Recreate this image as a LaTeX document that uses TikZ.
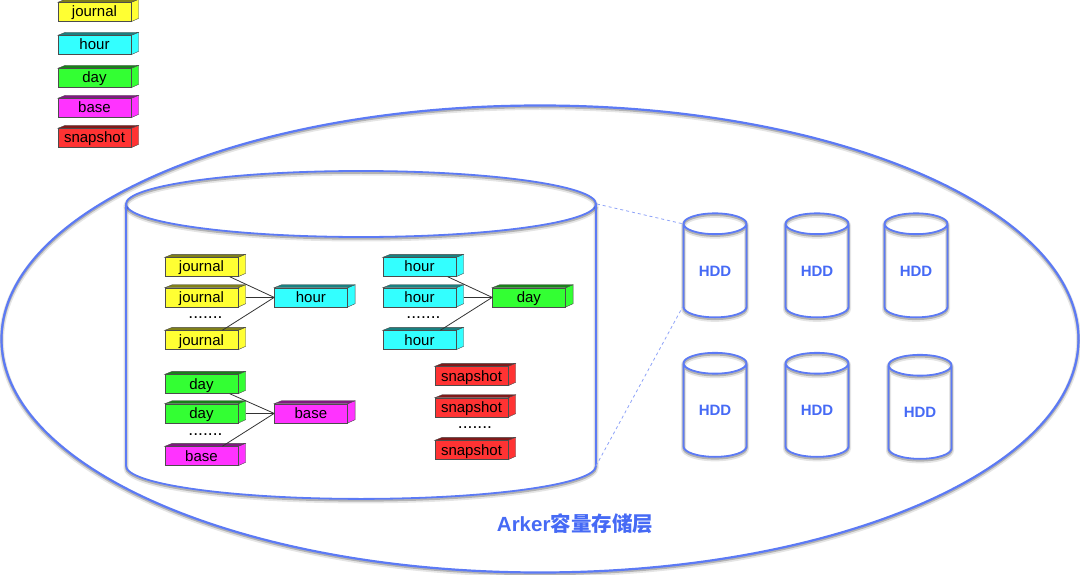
\documentclass[tikz,border=0pt]{standalone}
\usepackage{fontspec}
\setmainfont{Liberation Sans}
\newfontfamily\cjk{Noto Sans CJK SC}
\usepackage{tikz}
\usetikzlibrary{positioning, shapes.geometric}

\definecolor{arkerblue}{RGB}{92,122,245}
\definecolor{arkertext}{RGB}{70,106,245}
\definecolor{jyellow}{RGB}{255,255,51}
\definecolor{hcyan}{RGB}{51,255,255}
\definecolor{dgreen}{RGB}{51,255,51}
\definecolor{bmagenta}{RGB}{255,51,255}
\definecolor{sred}{RGB}{255,51,51}

\tikzset{
  brick/.style={draw=black!70, fill=#1, minimum width=73pt, minimum height=19pt, inner sep=0pt,
    font=\fontsize{15}{15}\selectfont, text height=10pt, text depth=0pt,
    append after command={\pgfextra{
      \draw[draw=black!70, fill=#1] (\tikzlastnode.north east) -- ++(7.5,-3) -- ++(0,19) -- (\tikzlastnode.south east) -- cycle;
      \draw[draw=black!70, fill=#1!50!black] (\tikzlastnode.north west) -- ++(7.5,-3) -- ++(73,0) -- (\tikzlastnode.north east) -- cycle;
    }}},
  soft/.style={preaction={draw=black, draw opacity=0.10, line width=5pt, transform canvas={yshift=-2pt}},
    preaction={draw=black, draw opacity=0.22, line width=2.5pt, transform canvas={yshift=-1.5pt}}},
  tankline/.style={draw=arkerblue, line width=1.8pt, soft},
  hdd/.style={shape=cylinder, shape border rotate=90, tankline, inner sep=0pt, aspect=0.64, minimum width=63pt, minimum height=104pt, text=arkertext, font=\fontsize{15}{15}\selectfont\bfseries},
  dots/.style={anchor=base, font=\fontsize{17.5}{17.5}\selectfont},
  zoomline/.style={draw=arkerblue!70, dashed, line width=0.8pt},
  link/.style={draw=black!80, line width=0.8pt}
}

\begin{document}
\begin{tikzpicture}[x=1pt, y=-1pt]
\useasboundingbox (0,0) rectangle (1080,575);

% ================= OUTER LAYER =================
\node[ellipse, draw=arkerblue, line width=2.2pt, inner sep=0pt, minimum width=1077pt, minimum height=467pt, soft] (layer) at (540,339) {};
\node[text=arkertext, font=\fontsize{20.5}{20.5}\selectfont\bfseries] (title) at (575,524) {Arker{\cjk 容量存储层}};

% ================= LEGEND =================
\node[brick=jyellow] (legjr) at (94.5,12) {journal};
\node[brick=hcyan] (leghr) at (94.5,45) {hour};
\node[brick=dgreen] (legdy) at (94.5,78) {day};
\node[brick=bmagenta] (legbs) at (94.5,108) {base};
\node[brick=sred] (legsn) at (94.5,138) {snapshot};

% ================= MAIN CYLINDER =================
\node[ellipse, tankline, inner sep=0pt, minimum width=470pt, minimum height=66pt] (disktop) at (361,204) {};
\node[minimum width=470pt, minimum height=261pt, inner sep=0pt, outer sep=0pt] (disk) [below=-33pt of disktop] {};
\draw[tankline] (disk.north west) -- (disk.south west) arc[start angle=180, end angle=360, x radius=235pt, y radius=33pt] -- (disk.north east);

% ================= HDD =================
\node[hdd] (hdd1) at (715,271) {HDD};
\node[hdd] (hdd2) at (817,271) {HDD};
\node[hdd] (hdd3) at (916,271) {HDD};
\node[hdd] (hdd4) at (715,410.5) {HDD};
\node[hdd] (hdd5) at (817,410.5) {HDD};
\node[hdd] (hdd6) at (920,412.5) {HDD};

\draw[zoomline] (disktop.east) -- (hdd1.before top);
\draw[zoomline] (disk.south east) -- (hdd1.after bottom);

% ================= JOURNAL TO HOUR =================
\node[brick=jyellow] (jr1) at (201.5,267) {journal};
\node[brick=jyellow] (jr2) [below=11pt of jr1] {journal};
\node[brick=jyellow] (jr3) at (201.5,340) {journal};
\node[brick=hcyan] (hr0) [right=36pt of jr2] {hour};
\node[dots] (dotsA) at (205.5,318) {.......};

% ================= HOUR TO DAY =================
\node[brick=hcyan] (hr1) at (419.5,267) {hour};
\node[brick=hcyan] (hr2) [below=11pt of hr1] {hour};
\node[brick=hcyan] (hr3) at (419.5,340) {hour};
\node[brick=dgreen] (dy0) [right=36pt of hr2] {day};
\node[dots] (dotsB) at (423.5,318) {.......};

% ================= DAY TO BASE =================
\node[brick=dgreen] (dy1) at (201.5,384) {day};
\node[brick=dgreen] (dy2) [below=10pt of dy1] {day};
\node[brick=bmagenta] (bs1) at (201.5,456) {base};
\node[brick=bmagenta] (bs0) [right=36pt of dy2] {base};
\node[dots] (dotsC) at (205.5,435) {.......};

% ================= SNAPSHOT =================
\node[brick=sred] (sn1) at (471.5,376) {snapshot};
\node[brick=sred] (sn2) [below=12pt of sn1] {snapshot};
\node[brick=sred] (sn3) at (471.5,450) {snapshot};
\node[dots] (dotsD) at (475,428.5) {.......};

% ===== Merge lines =====
\foreach \a/\b/\c/\d in {jr1/jr2/jr3/hr0, hr1/hr2/hr3/dy0, dy1/dy2/bs1/bs0} {
  \draw[link] (\a.-19) -- (\d.west);
  \draw[link] ([xshift=7.5pt]\b.east) -- (\d.west);
  \draw[link] (\c.25) -- (\d.west);
}
\end{tikzpicture}
\end{document}
